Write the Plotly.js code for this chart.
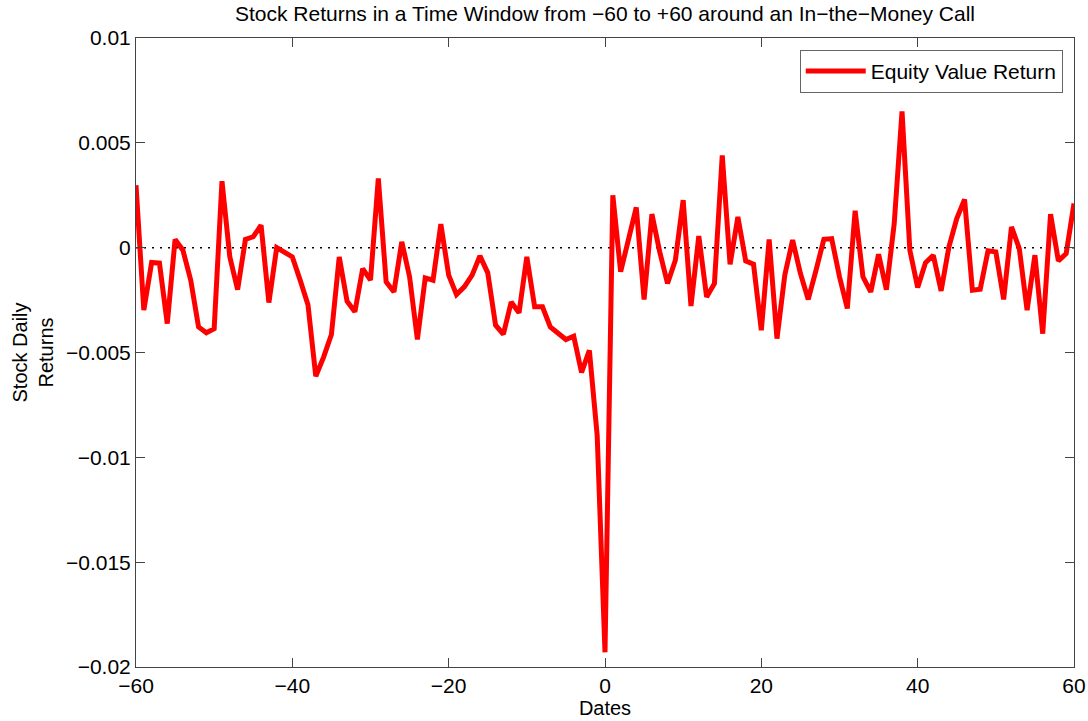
<!DOCTYPE html>
<html>
<head>
<meta charset="utf-8">
<script src="https://cdn.plot.ly/plotly-3.0.1.min.js"></script>
<style>
  html, body { margin: 0; padding: 0; background: #fff; }
  #chart { width: 1088px; height: 721px; }
</style>
</head>
<body>
<div id="chart"></div>
<script>
// Event-window days
const days = [
  -60,-59,-58,-57,-56,-55,-54,-53,-52,-51,-50,-49,-48,-47,-46,-45,-44,-43,-42,-41,
  -40,-39,-38,-37,-36,-35,-34,-33,-32,-31,-30,-29,-28,-27,-26,-25,-24,-23,-22,-21,
  -20,-19,-18,-17,-16,-15,-14,-13,-12,-11,-10,-9,-8,-7,-6,-5,-4,-3,-2,-1,
  0,1,2,3,4,5,6,7,8,9,10,11,12,13,14,15,16,17,18,19,
  20,21,22,23,24,25,26,27,28,29,30,31,32,33,34,35,36,37,38,39,
  40,41,42,43,44,45,46,47,48,49,50,51,52,53,54,55,56,57,58,59,60
];

// Equity value daily returns
const equityReturns = [
  0.00298,-0.00298,-0.00071,-0.00074,-0.00362,0.00039,-0.00012,-0.00155,-0.00378,-0.00406,
  -0.00386,0.00317,-0.00044,-0.00200,0.00039,0.00052,0.00107,-0.00262,0.00000,-0.00020,
  -0.00044,-0.00155,-0.00272,-0.00613,-0.00522,-0.00414,-0.00044,-0.00255,-0.00306,-0.00100,
  -0.00155,0.00330,-0.00163,-0.00211,0.00028,-0.00139,-0.00438,-0.00144,-0.00155,0.00112,
  -0.00131,-0.00224,-0.00187,-0.00131,-0.00039,-0.00120,-0.00370,-0.00413,-0.00259,-0.00311,
  -0.00044,-0.00282,-0.00282,-0.00378,-0.00406,-0.00438,-0.00422,-0.00595,-0.00490,-0.00895,
  -0.01930,
  0.00250,-0.00115,0.00028,0.00192,-0.00247,0.00160,-0.00020,-0.00171,-0.00060,0.00227,
  -0.00278,0.00055,-0.00235,-0.00171,0.00440,-0.00080,0.00147,-0.00063,-0.00079,-0.00394,
  0.00039,-0.00434,-0.00131,0.00036,-0.00123,-0.00247,-0.00107,0.00040,0.00043,-0.00139,
  -0.00290,0.00176,-0.00139,-0.00211,-0.00031,-0.00200,0.00115,0.00650,-0.00012,-0.00190,
  -0.00072,-0.00036,-0.00206,0.00004,0.00139,0.00230,-0.00203,-0.00198,-0.00015,-0.00020,
  -0.00247,0.00099,-0.00004,-0.00298,-0.00036,-0.00410,0.00160,-0.00063,-0.00028,0.00211
];

// Reference (zero) line endpoints
const zeroX = [-60, 60];
const zeroY = [0, 0];

// Axis ticks
const xTickVals = [-60, -40, -20, 0, 20, 40, 60];
const xTickText = ['−60', '−40', '−20', '0', '20', '40', '60'];
const yTickVals = [0.01, 0.005, 0, -0.005, -0.01, -0.015, -0.02];
const yTickText = ['0.01', '0.005', '0', '−0.005', '−0.01', '−0.015', '−0.02'];

const FONT = 'Liberation Sans, Arial, Helvetica, sans-serif';

const traces = [
  {
    x: zeroX, y: zeroY, type: 'scatter', mode: 'lines',
    line: { color: '#000', width: 1.5, dash: '2px,6px' },
    showlegend: false, hoverinfo: 'skip'
  },
  {
    x: days, y: equityReturns, type: 'scatter', mode: 'lines',
    name: 'Equity Value Return',
    line: { color: '#ff0000', width: 5 }
  }
];

const axisCommon = {
  showgrid: false, zeroline: false,
  showline: true, linecolor: '#444', linewidth: 1, mirror: 'ticks',
  ticks: 'inside', ticklen: 9, tickcolor: '#444', tickwidth: 1,
  tickfont: { family: FONT, size: 21, color: '#000' }
};

const layout = {
  width: 1088, height: 721,
  margin: { l: 136, r: 14, t: 38, b: 54 },
  paper_bgcolor: '#fff', plot_bgcolor: '#fff',
  font: { family: FONT, color: '#000' },
  title: {
    text: 'Stock Returns in a Time Window from −60 to +60 around an In−the−Money Call',
    font: { family: FONT, size: 21, color: '#000' },
    x: 0.5, xref: 'paper', xanchor: 'center',
    y: 0.981, yanchor: 'middle', yref: 'container'
  },
  xaxis: Object.assign({}, axisCommon, {
    range: [-60, 60],
    tickmode: 'array', tickvals: xTickVals, ticktext: xTickText,
    ticklabelstandoff: 0,
    title: { text: 'Dates', font: { family: FONT, size: 20, color: '#000' }, standoff: 0 },
    automargin: false
  }),
  yaxis: Object.assign({}, axisCommon, {
    range: [-0.02, 0.01],
    tickmode: 'array', tickvals: yTickVals, ticktext: yTickText,
    title: { text: 'Stock Daily<br>Returns', font: { family: FONT, size: 20, color: '#000' }, standoff: 6 },
    automargin: false
  }),
  legend: {
    x: 0.988, xanchor: 'right', y: 0.981, yanchor: 'top',
    bgcolor: '#fff', bordercolor: '#666', borderwidth: 1,
    font: { family: FONT, size: 21, color: '#000' },
    itemwidth: 60, tracegroupgap: 0
  },
  showlegend: true
};

Plotly.newPlot('chart', traces, layout, { displayModeBar: false, staticPlot: true });
</script>
</body>
</html>
